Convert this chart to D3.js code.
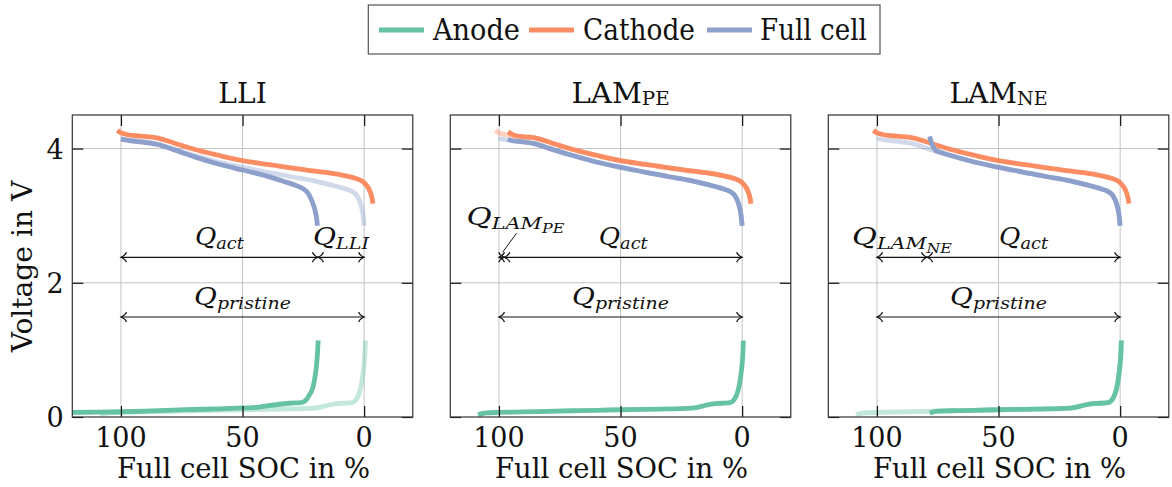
<!DOCTYPE html>
<html>
<head>
<meta charset="utf-8">
<script src="https://cdn.jsdelivr.net/npm/d3@7"></script>
<style>
  html, body { margin: 0; padding: 0; background: #fff; }
</style>
</head>
<body>
<svg id="chart" width="1172" height="487" font-family="DejaVu Serif"></svg>
<script>
// ---- data: [full cell SOC in %, voltage in V] ----
const socTicks = [100, 50, 0];
const voltTicks = [0, 2, 4];

const anodePristine = [[108.6,0.03],[107,0.05],[105,0.062],[100,0.068],[90,0.075],[80,0.085],[70,0.093],[60,0.1],[50,0.108],[40,0.115],[30,0.12],[23,0.127],[19,0.14],[15,0.175],[12,0.195],[8,0.205],[5,0.215],[3.5,0.25],[2.5,0.31],[1.5,0.42],[0.7,0.58],[0.1,0.76],[-0.3,0.95],[-0.5,1.14]];
const cathodePristine = [[101.5,4.27],[100,4.235],[97.7,4.21],[92,4.185],[85.3,4.16],[78,4.08],[70,3.99],[60,3.9],[50,3.82],[43,3.78],[35,3.74],[23.6,3.68],[15,3.64],[8.5,3.6],[3,3.55],[1,3.52],[-0.5,3.47],[-1.8,3.41],[-2.8,3.32],[-3.3,3.25],[-3.6,3.18]];
const fullPristine = [[100,4.15],[95,4.12],[90,4.1],[85,4.07],[80,4.01],[70,3.9],[60,3.8],[50,3.72],[40,3.65],[30,3.58],[22,3.53],[15,3.47],[8,3.4],[5,3.36],[3,3.3],[1.5,3.18],[0.5,3.02],[0,2.85]];

const anodeLLI = [[128,0.03],[126,0.05],[123,0.062],[119,0.068],[110,0.072],[100,0.078],[90,0.088],[81,0.1],[70,0.112],[60,0.122],[50,0.135],[44,0.145],[40,0.165],[35,0.19],[31,0.205],[26,0.215],[24,0.25],[22.5,0.33],[21,0.45],[20.2,0.6],[19.5,0.8],[19.1,1.0],[18.9,1.14]];
const fullLLI = [[100,4.14],[95,4.11],[90,4.09],[85,4.06],[78,3.98],[70,3.88],[60,3.77],[50,3.68],[40,3.59],[33,3.51],[28,3.45],[25,3.4],[23,3.33],[21.5,3.22],[20.2,3.08],[19.5,2.95],[19.2,2.85]];

const cathodeLAMPE = [[96.3,4.25],[94.5,4.21],[93,4.19],[90,4.175],[85.3,4.16],[78,4.08],[70,3.99],[60,3.9],[50,3.82],[43,3.78],[35,3.74],[23.6,3.68],[15,3.64],[8.5,3.6],[3,3.55],[1,3.52],[-0.5,3.47],[-1.8,3.41],[-2.8,3.32],[-3.3,3.25],[-3.6,3.18]];
const fullLAMPE = [[96.3,4.14],[95,4.12],[90,4.1],[85,4.07],[80,4.01],[70,3.9],[60,3.8],[50,3.72],[40,3.65],[30,3.58],[22,3.53],[15,3.47],[8,3.4],[5,3.36],[3,3.3],[1.5,3.18],[0.5,3.02],[0,2.85]];

const anodeLAMNE = [[78.3,0.06],[75,0.088],[70,0.093],[60,0.1],[50,0.108],[40,0.115],[30,0.12],[23,0.127],[19,0.14],[15,0.175],[12,0.195],[8,0.205],[5,0.215],[3.5,0.25],[2.5,0.31],[1.5,0.42],[0.7,0.58],[0.1,0.76],[-0.3,0.95],[-0.5,1.14]];
const fullLAMNE = [[78.3,4.18],[77.6,4.09],[76.8,4.02],[75.8,3.97],[73,3.935],[70,3.9],[60,3.8],[50,3.72],[40,3.65],[30,3.58],[22,3.53],[15,3.47],[8,3.4],[5,3.36],[3,3.3],[1.5,3.18],[0.5,3.02],[0,2.85]];

// capacity split points (SOC in %)
const lliSplit = 19;
const lamPeSplit = 97.8;
const lamNeSplit = 79.4;

const legendLabels = ["Anode", "Cathode", "Full cell"];
const colors = { anode: "#66c2a5", cathode: "#fc8d62", full: "#8da0cb" };

// ---- layout ----
const FONT = "DejaVu Serif";
const svg = d3.select("#chart");
const W = 340.5, plotTop = 115, plotBottom = 417;
const panelLeft = [72.3, 450.3, 828.3];
const y = d3.scaleLinear().domain([0, 4.5]).range([plotBottom, plotTop]);
const fadeOpacity = 0.4;
const lineW = 4.8;

function styleText(t) {
  return t.attr("font-family", FONT).attr("fill", "#111");
}

// draw a text built by `build`, horizontally scaled to a target ink width
function fitted(parent, x, yb, targetW, build, anchor = "middle", rotate = false) {
  const g = parent.append("g");
  const t = styleText(g.append("text").attr("x", 0).attr("y", 0));
  build(t);
  const w = t.node().getComputedTextLength();
  const s = w > 0 ? targetW / w : 1;
  const x0 = anchor === "middle" ? -targetW / 2 : 0;
  if (rotate) {
    g.attr("transform", `translate(${x},${yb}) rotate(-90) translate(${x0},0) scale(${s},1)`);
  } else {
    g.attr("transform", `translate(${x + x0},${yb}) scale(${s},1)`);
  }
  return g;
}

// math label Q_{sub} (optionally Q_{sub_{subsub}})
function qLabel(parent, cx, yb, targetW, sub, subsub) {
  return fitted(parent, cx, yb, targetW, t => {
    t.attr("font-style", "italic").attr("font-size", 25);
    t.append("tspan").text("Q");
    t.append("tspan").attr("font-size", 17).attr("dy", 4).text(sub);
    if (subsub) t.append("tspan").attr("font-size", 13).attr("dy", 4).text(subsub);
  });
}

// LaTeX-like open arrow tip at (x, yy); dir = +1 points right, -1 points left
function tip(parent, x, yy, dir) {
  const d = dir;
  const p = `M${x - 5.5 * d},${yy - 5} C${x - 4.5 * d},${yy - 2} ${x - 1.5 * d},${yy - 0.6} ${x},${yy} C${x - 1.5 * d},${yy + 0.6} ${x - 4.5 * d},${yy + 2} ${x - 5.5 * d},${yy + 5}`;
  parent.append("path").attr("d", p).attr("fill", "none").attr("stroke", "#111").attr("stroke-width", 1.2);
}

function dimArrow(parent, x, from, to, v) {
  const x1 = x(from), x2 = x(to), yy = y(v);
  parent.append("line").attr("x1", x1).attr("x2", x2).attr("y1", yy).attr("y2", yy)
    .attr("stroke", "#111").attr("stroke-width", 1.2);
  tip(parent, x1, yy, -1);
  tip(parent, x2, yy, 1);
  return { mid: (x1 + x2) / 2, yy };
}

const panels = [
  { title: "LLI", sub: "",
    faded: [[anodePristine, "anode"], [fullPristine, "full"]],
    dark: [[anodeLLI, "anode"], [cathodePristine, "cathode"], [fullLLI, "full"]] },
  { title: "LAM", sub: "PE",
    faded: [[cathodePristine, "cathode"], [fullPristine, "full"]],
    dark: [[anodePristine, "anode"], [cathodeLAMPE, "cathode"], [fullLAMPE, "full"]] },
  { title: "LAM", sub: "NE",
    faded: [[anodePristine, "anode"], [fullPristine, "full"]],
    dark: [[anodeLAMNE, "anode"], [cathodePristine, "cathode"], [fullLAMNE, "full"]] }
];

const actV = 2.38, pristineV = 1.49;

panels.forEach((p, i) => {
  const L = panelLeft[i];
  const x = d3.scaleLinear().domain([120, -20]).range([L, L + W]);
  const g = svg.append("g");

  g.append("clipPath").attr("id", "clip" + i)
    .append("rect").attr("x", L).attr("y", plotTop).attr("width", W).attr("height", plotBottom - plotTop);

  // grid
  g.append("g").selectAll("line").data(socTicks).join("line")
    .attr("x1", d => x(d)).attr("x2", d => x(d)).attr("y1", plotTop).attr("y2", plotBottom)
    .attr("stroke", "#c4c4c4").attr("stroke-width", 1);
  g.append("g").selectAll("line").data(voltTicks.filter(v => v > 0)).join("line")
    .attr("x1", L).attr("x2", L + W).attr("y1", d => y(d)).attr("y2", d => y(d))
    .attr("stroke", "#c4c4c4").attr("stroke-width", 1);

  // curves
  const line = d3.line().x(d => x(d[0])).y(d => y(d[1])).curve(d3.curveMonotoneX);
  const curves = g.append("g").attr("clip-path", `url(#clip${i})`);
  p.faded.forEach(([data, key]) => {
    curves.append("path").attr("d", line(data)).attr("fill", "none")
      .attr("stroke", colors[key]).attr("stroke-opacity", fadeOpacity)
      .attr("stroke-width", lineW).attr("stroke-linejoin", "round");
  });
  p.dark.forEach(([data, key]) => {
    curves.append("path").attr("d", line(data)).attr("fill", "none")
      .attr("stroke", colors[key]).attr("stroke-width", lineW).attr("stroke-linejoin", "round");
  });

  // frame and ticks (all four sides, inward)
  const tl = 11;
  const axBottom = d3.axisBottom(x).tickValues(socTicks).tickSize(-tl).tickFormat("");
  const axTop = d3.axisTop(x).tickValues(socTicks).tickSize(-tl).tickFormat("");
  const axLeft = d3.axisLeft(y).tickValues(voltTicks).tickSize(-tl).tickFormat("");
  const axRight = d3.axisRight(y).tickValues(voltTicks).tickSize(-tl).tickFormat("");
  [[axBottom, `translate(0,${plotBottom})`], [axTop, `translate(0,${plotTop})`],
   [axLeft, `translate(${L},0)`], [axRight, `translate(${L + W},0)`]].forEach(([ax, tr]) => {
    const a = g.append("g").attr("transform", tr).call(ax);
    a.select(".domain").remove();
    a.selectAll(".tick line").attr("stroke", "#111").attr("stroke-width", 1.2);
  });
  g.append("rect").attr("x", L).attr("y", plotTop).attr("width", W).attr("height", plotBottom - plotTop)
    .attr("fill", "none").attr("stroke", "#333").attr("stroke-width", 1.2);

  // tick labels
  styleText(g.append("g").selectAll("text").data(socTicks).join("text"))
    .attr("x", d => x(d)).attr("y", 446.5).attr("text-anchor", "middle")
    .attr("font-size", 27).text(d => d);
  if (i === 0) {
    styleText(g.append("g").selectAll("text").data(voltTicks).join("text"))
      .attr("x", L - 8.5).attr("y", d => y(d) + 10).attr("text-anchor", "end")
      .attr("font-size", 27).text(d => d);
  }

  // x axis label
  fitted(g, L + W / 2 + 1, 478, 253, t => t.attr("font-size", 28).text("Full cell SOC in %"));

  // title
  const tw = p.sub ? 98.3 : 48.4;
  fitted(g, L + W / 2, 102.5, tw, t => {
    t.attr("font-size", 28);
    t.append("tspan").text(p.title);
    if (p.sub) t.append("tspan").attr("font-size", 19).attr("dy", 2).text(p.sub);
  });

  // capacity arrows
  const ann = g.append("g");
  const pr = dimArrow(ann, x, 100, 0, pristineV);
  qLabel(ann, pr.mid, pr.yy - 12, 97, "pristine");
  if (i === 0) {
    const a1 = dimArrow(ann, x, 100, lliSplit, actV);
    const a2 = dimArrow(ann, x, lliSplit, 0, actV);
    qLabel(ann, a1.mid, a1.yy - 12, 49, "act");
    qLabel(ann, a2.mid, a2.yy - 12, 56, "LLI");
  } else if (i === 1) {
    const a1 = dimArrow(ann, x, 100, lamPeSplit, actV);
    const a2 = dimArrow(ann, x, lamPeSplit, 0, actV);
    qLabel(ann, a2.mid, a2.yy - 12, 49, "act");
    qLabel(ann, x(93.2), a1.yy - 32, 98, "LAM", "PE");
    ann.append("line").attr("x1", x(93.2) + 1).attr("y1", a1.yy - 24)
      .attr("x2", a1.mid + 1).attr("y2", a1.yy - 5)
      .attr("stroke", "#111").attr("stroke-width", 1);
  } else {
    const a1 = dimArrow(ann, x, 100, lamNeSplit, actV);
    const a2 = dimArrow(ann, x, lamNeSplit, 0, actV);
    qLabel(ann, a2.mid, a2.yy - 12, 49, "act");
    qLabel(ann, a1.mid, a1.yy - 12, 100, "LAM", "NE");
  }
});

// y axis label
fitted(svg, 32, 266.5, 171.6, t => t.attr("font-size", 28).text("Voltage in V"), "middle", true);

// legend
const lg = svg.append("g");
lg.append("rect").attr("x", 368.3).attr("y", 5).attr("width", 511.7).attr("height", 49)
  .attr("fill", "#fff").attr("stroke", "#555").attr("stroke-width", 1.2);
const legendItems = [
  { label: legendLabels[0], key: "anode", lx: 379, tx: 433, tw: 87 },
  { label: legendLabels[1], key: "cathode", lx: 529, tx: 583, tw: 112 },
  { label: legendLabels[2], key: "full", lx: 707, tx: 760, tw: 107 }
];
legendItems.forEach(d => {
  lg.append("line").attr("x1", d.lx).attr("x2", d.lx + 45).attr("y1", 30).attr("y2", 30)
    .attr("stroke", colors[d.key]).attr("stroke-width", lineW);
  fitted(lg, d.tx, 40, d.tw, t => t.attr("font-size", 29).text(d.label), "start");
});
</script>
</body>
</html>
